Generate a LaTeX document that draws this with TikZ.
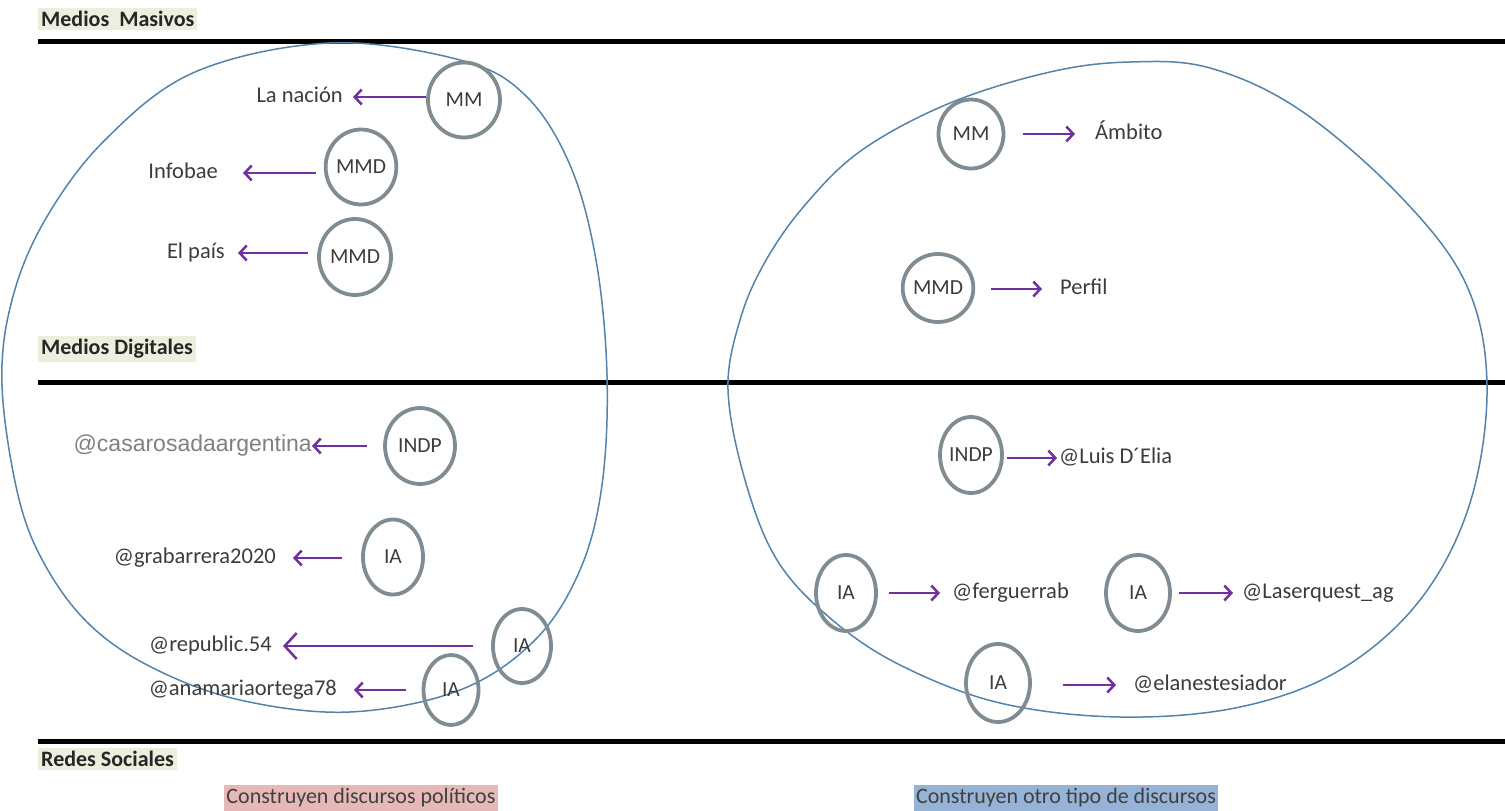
\documentclass[tikz,border=0pt]{standalone}
\usepackage{fontspec}
\setmainfont{Carlito}
\newfontfamily\arialf{Liberation Sans}
\usetikzlibrary{arrows.meta,shapes.geometric}
\definecolor{bubgray}{RGB}{128,140,145}
\definecolor{arrpurple}{RGB}{112,48,160}
\definecolor{txtgray}{RGB}{60,60,60}
\definecolor{hdrbg}{RGB}{235,240,222}
\definecolor{pinkbg}{RGB}{230,185,184}
\definecolor{bluebg}{RGB}{149,179,215}
\definecolor{ringblue}{RGB}{84,130,170}
\begin{document}
\begin{tikzpicture}[x=1pt,y=-1pt,
  bub/.style={ellipse, draw=bubgray, line width=3.8pt, inner sep=0pt, text=txtgray,
    font=\fontsize{21.5}{24}\selectfont},
  lbl/.style={inner sep=0pt, text=txtgray, text height=14pt, text depth=4pt,
    font=\fontsize{22.5}{25}\selectfont},
  hdr/.style={fill=hdrbg, inner xsep=3pt, inner ysep=3pt, anchor=west, text=black!85,
    font=\bfseries\fontsize{22}{24}\selectfont},
  tag/.style={inner xsep=2pt, inner ysep=4pt, text=black!75, text height=14pt, text depth=4pt,
    font=\fontsize{22}{24}\selectfont},
  link/.style={draw=arrpurple, line width=2.5pt, -{Straight Barb[length=7pt,width=15pt]}},
  sepline/.style={line width=5pt, black},
  ring/.style={draw=ringblue, line width=1.5pt}
]
\useasboundingbox (0,0) rectangle (1505,811);

% separators
\draw[sepline] (38,41) -- (1505,41);
\draw[sepline] (38,382) -- (1505,382);
\draw[sepline] (38,741) -- (1505,741);

% big rings
\draw[ring] plot[smooth cycle, tension=0.6] coordinates {
  (2,385) (12,300) (45,220) (105,140) (195,72) (330,43) (460,60) (525,95)
  (570,165) (596,260) (607,375) (602,485) (580,570) (535,640) (460,690)
  (350,712) (240,700) (153,668) (90,625) (45,565) (18,495)};
\draw[ring] plot[smooth cycle, tension=0.6] coordinates {
  (728,390) (740,320) (765,262) (805,205) (862,150) (950,103) (1050,72)
  (1130,62) (1210,68) (1300,110) (1400,196) (1466,284) (1487,385) (1470,503)
  (1420,600) (1340,670) (1240,707) (1120,717) (1000,703) (900,665) (830,618)
  (777,560) (745,480)};

% headers
\node[hdr] (hm) at (38,19) {Medios\ \ Masivos};
\node[hdr] (hd) at (38,349) {Medios Digitales};
\node[hdr] (hr) at (38,759) {Redes Sociales};

% bottom tags
\node[tag, fill=pinkbg] (cp) at (361,798) {Construyen discursos políticos};
\node[tag, fill=bluebg] (co) at (1066,798) {Construyen otro tipo de discursos};

% left top
\node[bub, minimum width=72pt, minimum height=75pt] (mmA) at (464,100) {MM};
\node[bub, minimum width=69pt, minimum height=75pt] (mmdA) at (361,167) {MMD};
\node[bub, minimum width=72pt, minimum height=76pt] (mmdB) at (355,257) {MMD};
\node[lbl, anchor=east] (nacion) at (343,97) {La nación};
\node[lbl, anchor=east] (infobae) at (218,173) {Infobae};
\node[lbl, anchor=east] (pais) at (225,253) {El país};
\draw[link, shorten >=10pt] (mmA.west |- nacion.east) -- (nacion.east);
\draw[link, shorten <=8pt, shorten >=25pt] (mmdA.west |- infobae.east) -- (infobae.east);
\draw[link, shorten <=9pt, shorten >=13pt] (mmdB.west |- pais.east) -- (pais.east);

% right top
\node[bub, minimum width=65pt, minimum height=69pt] (mmC) at (971,134) {MM};
\node[bub, minimum width=64pt, minimum height=68pt] (mmdC) at (938,288) {MMD};
\node[lbl, anchor=west] (ambito) at (1095,134) {Ámbito};
\node[lbl, anchor=west] (perfil) at (1060,289) {Perfil};
\draw[link, shorten <=18pt, shorten >=20pt] (mmC.east |- ambito.west) -- (ambito.west);
\draw[link, shorten <=16pt, shorten >=18pt] (mmdC.east |- perfil.west) -- (perfil.west);

% left bottom
\node[bub, minimum width=70pt, minimum height=76pt] (indpA) at (420,446) {INDP};
\node[bub, minimum width=60pt, minimum height=75pt] (iaA) at (393,557) {IA};
\node[bub, minimum width=58pt, minimum height=74pt] (iaB) at (522,646) {IA};
\node[bub, minimum width=55pt, minimum height=70pt] (iaC) at (451,690) {IA};
\node[inner sep=0pt, anchor=east, text=black!50, font=\arialf\fontsize{23}{25}\selectfont,
  text height=15pt, text depth=4pt] (casa) at (312,446) {@casarosadaargentina};
\node[lbl, anchor=east] (grab) at (276,558) {@grabarrera2020};
\node[lbl, anchor=east] (repu) at (272,646) {@republic.54};
\node[lbl, anchor=east] (ana) at (337,690) {@anamariaortega78};
\draw[link, shorten <=16pt] (indpA.west |- casa.east) -- (casa.east);
\draw[link, shorten <=19pt, shorten >=17pt] (iaA.west |- grab.east) -- (grab.east);
\draw[draw=arrpurple, line width=2.5pt, -{Straight Barb[length=12pt,width=26pt]},
  shorten <=18pt, shorten >=11pt] (iaB.west |- repu.east) -- (repu.east);
\draw[link, shorten <=16pt, shorten >=17pt] (iaC.west |- ana.east) -- (ana.east);

% right bottom
\node[bub, minimum width=62pt, minimum height=76pt] (indpB) at (971,455) {INDP};
\node[bub, minimum width=60pt, minimum height=76pt] (iaD) at (846,593) {IA};
\node[bub, minimum width=64pt, minimum height=76pt] (iaE) at (1138,593) {IA};
\node[bub, minimum width=64pt, minimum height=78pt] (iaF) at (998,683) {IA};
\node[lbl, anchor=west] (luis) at (1059,458) {@Luis D´Elia};
\node[lbl, anchor=west] (ferg) at (952,593) {@ferguerrab};
\node[lbl, anchor=west] (laser) at (1242,593) {@Laserquest\_ag};
\node[lbl, anchor=west] (elan) at (1133,685) {@elanestesiador};
\draw[link, shorten <=3pt, shorten >=2pt] (indpB.east |- luis.west) -- (luis.west);
\draw[link, shorten <=11pt, shorten >=12pt] (iaD.east |- ferg.west) -- (ferg.west);
\draw[link, shorten <=7pt, shorten >=9pt] (iaE.east |- laser.west) -- (laser.west);
\draw[link, shorten <=31pt, shorten >=17pt] (iaF.east |- elan.west) -- (elan.west);
\end{tikzpicture}
\end{document}
